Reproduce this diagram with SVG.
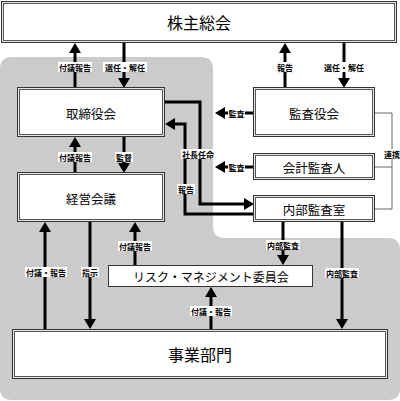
<svg xmlns="http://www.w3.org/2000/svg" width="400" height="401" viewBox="0 0 400 401">
<defs>
<marker id="ah" markerUnits="userSpaceOnUse" markerWidth="10" markerHeight="12" viewBox="0 0 10 12" refX="7" refY="6" orient="auto">
<path d="M0,0 L10,6 L0,12 Z" fill="#000"/>
</marker>
<style>
.o{fill:#e6e6e6;stroke:#333;stroke-width:1}
.i{fill:#fff;stroke:#555;stroke-width:1}
.t{font-family:"Noto Sans CJK JP","Noto Sans",sans-serif;fill:#000;text-anchor:middle;dominant-baseline:central}
.ln{fill:none;stroke:#000;stroke-width:3;marker-end:url(#ah)}
.ln2{fill:none;stroke:#000;stroke-width:3}
.thin{fill:none;stroke:#666;stroke-width:1}
.lb{fill:#fff}
.lt{font-family:"Noto Sans CJK JP","Noto Sans",sans-serif;font-size:8px;font-weight:bold;fill:#000;text-anchor:middle;dominant-baseline:central}
</style>
</defs>
<rect width="400" height="401" fill="#fff"/>
<path d="M12,57 H201 Q213,57 213,69 V226 Q213,238 225,238 H388 Q400,238 400,250 V388 Q400,400 388,400 H12 Q0,400 0,388 V69 Q0,57 12,57 Z" fill="#cbcbcb"/>

<g id="connectors">
<path class="ln" d="M75,88 V46"/>
<path class="ln" d="M124,43 V85"/>
<path class="ln" d="M285,88 V46"/>
<path class="ln" d="M344,43 V85"/>
<path class="ln" d="M254,113 H218"/>
<path class="ln" d="M254,167 H218"/>
<path class="ln" d="M75,173 V140"/>
<path class="ln" d="M124,137 V170"/>
<path class="ln" d="M165,102 H200 V204 H251"/>
<path class="ln" d="M254,214 H185 V124 H168"/>
<path class="ln" d="M45,329 V225"/>
<path class="ln" d="M90,222 V326"/>
<path class="ln" d="M135,265 V225"/>
<path class="ln" d="M283,222 V262"/>
<path class="ln" d="M342,222 V326"/>
<path class="ln" d="M211,329 V290"/>
<path class="thin" d="M375,113 H392 V209 H375 M375,167 H392"/>
<g>
<rect class="lb" x="58" y="62" width="34" height="10"/><text class="lt" x="75" y="67">付議報告</text>
<rect class="lb" x="103" y="62" width="44" height="10"/><text class="lt" x="125" y="67">選任・解任</text>
<rect class="lb" x="276" y="62" width="18" height="10"/><text class="lt" x="285" y="67">報告</text>
<rect class="lb" x="322" y="62" width="44" height="10"/><text class="lt" x="344" y="67">選任・解任</text>
<rect class="lb" x="228" y="108" width="17" height="10"/><text class="lt" x="236.5" y="113">監査</text>
<rect class="lb" x="228" y="162" width="17" height="10"/><text class="lt" x="236.5" y="167">監査</text>
<rect class="lb" x="58" y="152" width="34" height="10"/><text class="lt" x="75" y="157">付議報告</text>
<rect class="lb" x="115" y="152" width="18" height="10"/><text class="lt" x="124" y="157">監督</text>
<rect class="lb" x="181" y="149" width="34" height="10"/><text class="lt" x="198" y="154">社長任命</text>
<rect class="lb" x="177" y="184" width="18" height="10"/><text class="lt" x="186" y="189">報告</text>
<rect class="lb" x="384" y="149" width="16" height="10"/><text class="lt" x="392" y="154">連携</text>
<rect class="lb" x="25" y="267" width="42" height="10"/><text class="lt" x="46" y="272">付議・報告</text>
<rect class="lb" x="81" y="267" width="18" height="10"/><text class="lt" x="90" y="272">指示</text>
<rect class="lb" x="118" y="241" width="34" height="10"/><text class="lt" x="135" y="246">付議報告</text>
<rect class="lb" x="266" y="240" width="34" height="10"/><text class="lt" x="283" y="245">内部監査</text>
<rect class="lb" x="325" y="268" width="34" height="10"/><text class="lt" x="342" y="273">内部監査</text>
<rect class="lb" x="190" y="306" width="42" height="10"/><text class="lt" x="211" y="311">付議・報告</text>
</g>
</g>

<g id="n-shareholders">
<rect class="o" x="1.5" y="1.5" width="395" height="41"/>
<rect class="i" x="3.5" y="3.5" width="391" height="37"/>
<text class="t" x="199" y="22" font-size="16">株主総会</text>
</g>
<g id="n-board">
<rect class="o" x="17.5" y="87.5" width="147" height="49"/>
<rect class="i" x="19.5" y="89.5" width="143" height="45"/>
<text class="t" x="91" y="113" font-size="12.5">取締役会</text>
</g>
<g id="n-auditors">
<rect class="o" x="253.5" y="87.5" width="121" height="49"/>
<rect class="i" x="255.5" y="89.5" width="117" height="45"/>
<text class="t" x="314" y="113" font-size="12.5">監査役会</text>
</g>
<g id="n-accounting">
<rect class="o" x="253.5" y="153.5" width="121" height="26"/>
<rect class="i" x="255.5" y="155.5" width="117" height="22"/>
<text class="t" x="314" y="167" font-size="12.5">会計監査人</text>
</g>
<g id="n-internal">
<rect class="o" x="253.5" y="195.5" width="121" height="26"/>
<rect class="i" x="255.5" y="197.5" width="117" height="22"/>
<text class="t" x="314" y="209" font-size="12.5">内部監査室</text>
</g>
<g id="n-mgmt">
<rect class="o" x="17.5" y="172.5" width="147" height="49"/>
<rect class="i" x="19.5" y="174.5" width="143" height="45"/>
<text class="t" x="91" y="198" font-size="12.5">経営会議</text>
</g>
<g id="n-risk">
<rect x="108.5" y="265.5" width="204" height="21" fill="#fff" stroke="#333"/>
<text class="t" x="211" y="276" font-size="12">リスク・マネジメント委員会</text>
</g>
<g id="n-business">
<rect class="o" x="12.5" y="329.5" width="375" height="49"/>
<rect class="i" x="14.5" y="331.5" width="371" height="45"/>
<text class="t" x="200" y="354" font-size="16">事業部門</text>
</g>
</svg>
